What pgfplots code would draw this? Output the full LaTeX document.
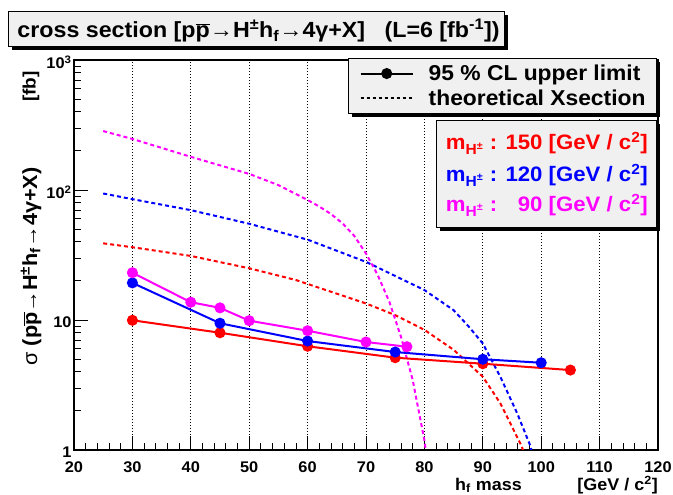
\documentclass[border=0pt]{standalone}
\usepackage{fontspec}
\setmainfont{Liberation Sans}[FakeStretch=1.06]
\usepackage{pgfplots}
\pgfplotsset{compat=1.18}
\usetikzlibrary{shadows}
\definecolor{boxgray}{RGB}{240,240,240}
\definecolor{rred}{RGB}{255,0,0}
\definecolor{rblue}{RGB}{0,0,255}
\definecolor{rmag}{RGB}{255,0,255}
\newcommand{\pbar}{\ensuremath{\overline{\mbox{p}}}}
\newcommand{\mH}{m\textsubscript{H\textsuperscript{±}}}
\tikzset{rootshadow/.style={drop shadow={shadow xshift=3.5bp, shadow yshift=-3.5bp, fill=black, opacity=1}}}
\makeatletter
\tikzset{noshadow/.code={\let\tikz@preactions\pgfutil@empty}}
\makeatother
\begin{document}
\begin{tikzpicture}
\path[use as bounding box] (-74bp,-45bp) rectangle (599bp,450bp);
\begin{axis}[
  at={(0,0)}, anchor=south west,
  scale only axis, width=584bp, height=390bp,
  xmin=20, xmax=120, ymode=log, ymin=1, ymax=1000,
  xtick={20,30,...,120},
  xticklabels={20,30,40,50,60,70,80,90,100,110,120},
  minor x tick num=4,
  ytick={1,10,100,1000},
  yticklabels={1,10,10\textsuperscript{2},10\textsuperscript{3}},
  minor ytick={2,3,4,5,6,7,8,9,20,30,40,50,60,70,80,90,200,300,400,500,600,700,800,900},
  tick align=inside, xtick pos=left, ytick pos=left,
  major tick length=14bp, minor tick length=7bp,
  tick style={black, line width=0.8bp},
  axis line style={line width=1.2bp},
  xmajorgrids,
  grid style={black, line width=0.8bp, dash pattern=on 1bp off 2bp},
  ticklabel style={font=\fontsize{15.5}{18}\selectfont\bfseries},
  xticklabel style={yshift=-8bp},
  yticklabel style={yshift=-2bp, xshift=1bp},
  legend cell align=left,
  legend style={at={(1,1)}, anchor=north east, xshift=-1bp, yshift=2bp,
    fill=boxgray, draw=black, line width=1bp, rootshadow,
    font=\fontsize{21.6}{25}\selectfont\bfseries,
    nodes={inner sep=0bp},
    /tikz/every odd column/.append style={column sep=15bp},
    inner xsep=11bp, inner ysep=6.5bp, row sep=7.5bp},
  legend image code/.code={\draw[noshadow,mark repeat=2,mark phase=2,#1] plot coordinates {(0bp,0bp) (26bp,0bp) (52bp,0bp)};},
]
\addlegendimage{black, line width=2bp, mark=*, mark size=4.5bp}
\addlegendentry{95 \% CL upper limit}
\addlegendimage{black, line width=2bp, dash pattern=on 3bp off 3bp}
\addlegendentry{theoretical Xsection}

% theoretical cross sections (dashed)
\addplot[forget plot, rred, line width=2bp, dash pattern=on 4bp off 3bp] coordinates {
 (25,38.9) (30,36.3) (40,31.1) (50,25.0) (58,20.3) (70,13.4) (75,10.9) (80,8.4) (85,5.9) (90,3.66) (93,2.29) (96.7,1.06) (97,0.95)};
\addplot[forget plot, rblue, line width=2bp, dash pattern=on 4bp off 3bp] coordinates {
 (25,94) (30,85) (40,70) (50,55) (60,41.5) (70,28) (80,17) (85,11.9) (87.5,9.0) (90,6.6) (93,3.66) (95.9,1.91) (98.2,1.06) (98.4,0.95)};
\addplot[forget plot, rmag, line width=2bp, dash pattern=on 4bp off 3bp] coordinates {
 (25,284) (30,247) (40,180) (50,133) (55,109) (60,83.8) (62,74.6) (64,65.4) (66,55.3) (68,44.3) (70,32.5) (72,22.2) (74,13.8) (76,7.40) (78,3.45) (80,1.19) (80.3,0.95)};

% 95% CL upper limits
\addplot[forget plot, rred, line width=2bp, mark=*, mark size=4.5bp] coordinates {
 (30,9.95) (45,7.98) (60,6.28) (75,5.13) (90,4.61) (105,4.12)};
\addplot[forget plot, rblue, line width=2bp, mark=*, mark size=4.5bp] coordinates {
 (30,19.3) (45,9.44) (60,6.89) (75,5.67) (90,4.99) (100,4.69)};
\addplot[forget plot, rmag, line width=2bp, mark=*, mark size=4.5bp] coordinates {
 (30,23.1) (40,13.7) (45,12.4) (50,9.88) (60,8.27) (70,6.77) (77,6.23)};
\end{axis}

% mass box
\node[draw=black, line width=1bp, fill=boxgray, rootshadow, minimum width=220bp, minimum height=107bp, inner sep=0, anchor=north west] at (362bp,330bp) {};
\begin{scope}[every node/.style={anchor=base west, inner sep=0, font=\fontsize{21}{25}\selectfont\bfseries}]
\node[text=rred] at (371.7bp,300bp) {\mH\ : 150 [GeV / c\textsuperscript{2}]};
\node[text=rblue] at (371.7bp,268.3bp) {\mH\ : 120 [GeV / c\textsuperscript{2}]};
\node[text=rmag] at (371.7bp,238.3bp) {\mH\ : \phantom{1}90 [GeV / c\textsuperscript{2}]};
\end{scope}

% title
\node[draw=black, line width=1bp, fill=boxgray, rootshadow, minimum width=496bp, minimum height=35bp, inner sep=0, anchor=north west] at (-66bp,439bp) {};
\node[anchor=base, inner sep=0, font=\fontsize{22}{26}\selectfont\bfseries] at (184.5bp,412.7bp)
  {cross section [p\pbar→H\textsuperscript{±}h\textsubscript{f}→4γ+X]\ \ \ (L=6 [fb\textsuperscript{-1}])};

% axis titles
\node[rotate=90, anchor=center, inner sep=0, font=\fontsize{20.5}{24}\selectfont\bfseries] at (-43bp,183.5bp)
  {{\mdseries σ} (p\pbar→H\textsuperscript{±}h\textsubscript{f}→4γ+X)};
\node[rotate=90, anchor=center, inner sep=0, font=\fontsize{18}{22}\selectfont\bfseries] at (-43bp,363.3bp) {[fb]};
\node[anchor=base, inner sep=0, font=\fontsize{17}{20}\selectfont\bfseries] at (414.5bp,-40bp) {h\textsubscript{f} mass};
\node[anchor=base east, inner sep=0, font=\fontsize{17}{20}\selectfont\bfseries] at (584bp,-40.5bp) {[GeV / c\textsuperscript{2}]};
\end{tikzpicture}
\end{document}
